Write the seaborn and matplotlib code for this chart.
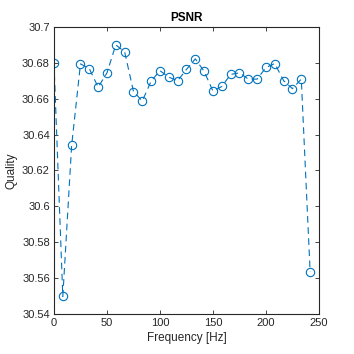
import numpy as np
import pandas as pd
import matplotlib
matplotlib.use("Agg")
import matplotlib.pyplot as plt
import seaborn as sns

frequency = [0, 8.333, 16.667, 25, 33.333, 41.667, 50, 58.333, 66.667, 75,
             83.333, 91.667, 100, 108.333, 116.667, 125, 133.333, 141.667, 150, 158.333,
             166.667, 175, 183.333, 191.667, 200, 208.333, 216.667, 225, 233.333, 241.667]
quality = [30.680, 30.5498, 30.634, 30.6794, 30.6767, 30.6664, 30.6744, 30.690, 30.6861, 30.664,
           30.6587, 30.6698, 30.6756, 30.672, 30.670, 30.6763, 30.6822, 30.6752, 30.6642, 30.6668,
           30.6735, 30.6744, 30.6709, 30.6709, 30.6774, 30.6796, 30.670, 30.6656, 30.6709, 30.5635]
xticks = [0, 50, 100, 150, 200, 250]
yticks = [30.54, 30.56, 30.58, 30.6, 30.62, 30.64, 30.66, 30.68, 30.7]
ytick_labels = ["30.54", "30.56", "30.58", "30.6", "30.62", "30.64", "30.66", "30.68", "30.7"]

sns.set_theme(style="white")
plt.rcParams['font.family'] = ['Liberation Sans', 'DejaVu Sans']

df = pd.DataFrame({"Frequency": frequency, "Quality": quality})

fig = plt.figure(figsize=(3.54, 3.54), dpi=100)
ax = fig.add_axes([0.1525, 0.113, 0.7485, 0.811])
color = "#0072BD"
sns.lineplot(data=df, x="Frequency", y="Quality", ax=ax, color=color,
             linestyle="--", linewidth=0.8, marker="o", markersize=6,
             markerfacecolor="none", markeredgecolor=color, markeredgewidth=0.8,
             dashes=False)
ax.lines[0].set_linestyle((0, (6, 4)))
ax.set_xlim(0, 250)
ax.set_ylim(30.54, 30.7)
ax.set_xticks(xticks)
ax.set_yticks(yticks)
ax.set_yticklabels(ytick_labels)
edge = "#262626"
for s in ax.spines.values():
    s.set_visible(True)
    s.set_color(edge)
    s.set_linewidth(0.8)
ax.tick_params(direction="in", length=3, width=0.6, colors=edge, labelsize=8,
               top=True, right=True, bottom=True, left=True, pad=3)
ax.set_xlabel("Frequency [Hz]", fontsize=8.5, color=edge, labelpad=3)
ax.set_ylabel("Quality", fontsize=8.5, color=edge, labelpad=3)
ax.set_title("PSNR", fontsize=8.5, fontweight="bold", color="black", pad=4)
ax.grid(False)
fig.savefig("out.png", dpi=100)
